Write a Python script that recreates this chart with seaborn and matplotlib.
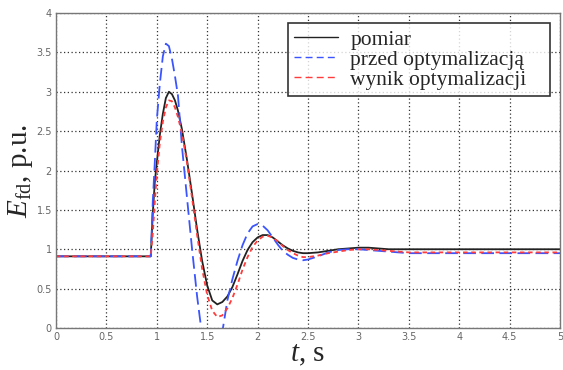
import numpy as np
import pandas as pd
import seaborn as sns
import matplotlib.pyplot as plt
from matplotlib.lines import Line2D

# time axis, s
t = [0, 0.94, 0.96, 0.98, 1.0, 1.03, 1.06, 1.09, 1.12, 1.15, 1.18, 1.21,
     1.25, 1.30, 1.35, 1.40, 1.45, 1.50, 1.55, 1.60, 1.65, 1.70, 1.75, 1.80,
     1.85, 1.90, 1.95, 2.00, 2.05, 2.10, 2.15, 2.20, 2.25, 2.30, 2.35, 2.40,
     2.45, 2.50, 2.6, 2.7, 2.8, 2.9, 3.0, 3.1, 3.2, 3.3, 3.4, 3.5, 5.0]

# measurement
pomiar = [0.91, 0.91, 1.45, 1.85, 2.10, 2.45, 2.72, 2.92, 3.00, 2.97, 2.89, 2.76,
          2.52, 2.13, 1.70, 1.25, 0.85, 0.54, 0.35, 0.30, 0.33, 0.40, 0.52, 0.68,
          0.85, 0.99, 1.09, 1.15, 1.18, 1.18, 1.15, 1.10, 1.05, 1.01, 0.98, 0.96,
          0.95, 0.95, 0.96, 0.98, 1.00, 1.01, 1.02, 1.02, 1.01, 1.00, 1.00, 1.00, 1.00]

# before optimisation
przed = [0.91, 0.91, 1.60, 2.10, 2.64, 3.10, 3.45, 3.61, 3.58, 3.42, 3.20, 2.95,
         2.30, 1.65, 1.00, 0.40, -0.10, -0.45, -0.55, -0.40, -0.05, 0.35, 0.62, 0.85,
         1.05, 1.20, 1.29, 1.32, 1.30, 1.24, 1.15, 1.06, 0.98, 0.93, 0.89, 0.87,
         0.86, 0.87, 0.91, 0.96, 0.99, 1.00, 1.00, 0.99, 0.98, 0.97, 0.96, 0.95, 0.95]

# optimisation result
wynik = [0.91, 0.91, 1.20, 1.60, 1.95, 2.35, 2.62, 2.80, 2.89, 2.88, 2.80, 2.68,
         2.47, 2.10, 1.65, 1.18, 0.75, 0.42, 0.22, 0.14, 0.16, 0.25, 0.38, 0.55,
         0.74, 0.90, 1.03, 1.11, 1.16, 1.17, 1.15, 1.10, 1.04, 0.99, 0.95, 0.92,
         0.90, 0.90, 0.92, 0.95, 0.97, 0.99, 1.00, 1.00, 0.99, 0.98, 0.97, 0.96, 0.96]

labels = ['pomiar', 'przed optymalizacją', 'wynik optymalizacji']
colors = ['#222222', '#3a55ff', '#ff3b3b']
dash_list = [None, (7, 3), (2.5, 2)]

sns.set_style('white')
plt.rcParams['font.family'] = ['Liberation Serif', 'DejaVu Serif']
plt.rcParams['mathtext.fontset'] = 'custom'
plt.rcParams['mathtext.rm'] = 'Liberation Serif'
plt.rcParams['mathtext.it'] = 'Liberation Serif:italic'

fig = plt.figure(figsize=(5.63, 3.70), dpi=100)
ax = fig.add_axes([56 / 563, 1 - 328 / 370, 504 / 563, 315 / 370])

for y, c, d in zip([pomiar, przed, wynik], colors, dash_list):
    sns.lineplot(x=t, y=y, ax=ax, color=c, linewidth=1.3, sort=False, estimator=None)
    if d is not None:
        ax.lines[-1].set_dashes(d)

ax.set_xlim(0, 5)
ax.set_ylim(0, 4)
ax.set_xticks(np.arange(0, 5.01, 0.5))
ax.set_yticks(np.arange(0, 4.01, 0.5))
ax.set_xticklabels(['0', '0.5', '1', '1.5', '2', '2.5', '3', '3.5', '4', '4.5', '5'])
ax.set_yticklabels(['0', '0.5', '1', '1.5', '2', '2.5', '3', '3.5', '4'])
ax.tick_params(labelsize=7, colors='#666666', direction='in', length=3, pad=3)
for lab in ax.get_xticklabels() + ax.get_yticklabels():
    lab.set_family('DejaVu Sans')
ax.grid(True, color='#333333', linestyle=(0, (1, 2)), linewidth=0.9)
for s in ax.spines.values():
    s.set_color('#777777')
    s.set_linewidth(1.0)

ax.set_xlabel('$t$, s', fontsize=21, labelpad=0)
ax.set_ylabel(r'$E_{\rm fd}$, p.u.', fontsize=21, labelpad=1)

handles = [Line2D([], [], color=c, linewidth=1.0) for c in colors]
for h, d in zip(handles, dash_list):
    if d is not None:
        h.set_dashes((5, 3))
leg = ax.legend(handles, labels, loc='upper left',
                bbox_to_anchor=(288 / 563, 1 - 23 / 370, 262 / 563, 0),
                bbox_transform=fig.transFigure, mode='expand', fontsize=15.5,
                frameon=True, fancybox=False, handlelength=2.0, handletextpad=0.6,
                labelspacing=0.0, borderpad=0.3, borderaxespad=0)
leg.get_frame().set_edgecolor('black')
leg.get_frame().set_linewidth(1.2)

fig.savefig('out.png', dpi=100)
